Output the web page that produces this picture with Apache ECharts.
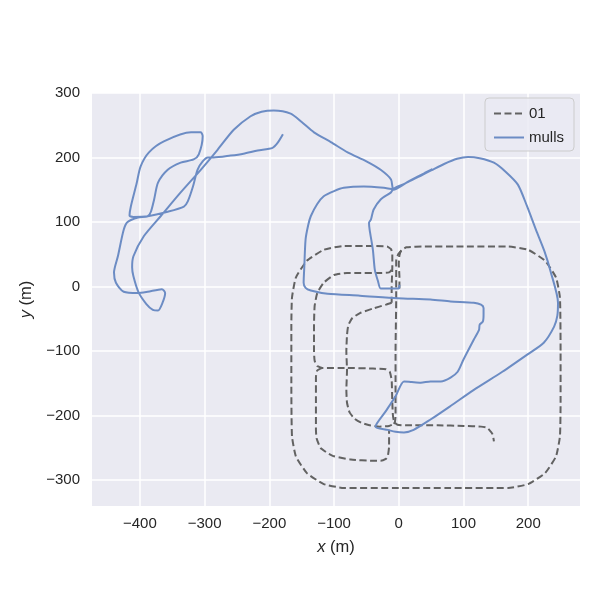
<!DOCTYPE html>
<html>
<head>
<meta charset="utf-8">
<script src="https://cdn.jsdelivr.net/npm/echarts@6/dist/echarts.min.js"></script>
<style>html,body{margin:0;padding:0;background:#fff;}#c{width:600px;height:600px;}</style>
</head>
<body>
<div id="c"></div>
<script>
// ---- tick labels ----
const xTicks = [-400, -300, -200, -100, 0, 100, 200];
const yTicks = [-300, -200, -100, 0, 100, 200, 300];

// ---- ground truth "01" (dashed), split into traced pieces ----
const gtOuter = [[1,-3],[1,15],[0,35],[1,48],[4,56],[12,61],[40,62],[100,62],[169,62],[200,57],[226,40],[243,14],[249,-17],[250,-100],[250,-180],[249,-232],[243,-263],[226,-289],[200,-306],[169,-312],[80,-312],[0,-312],[-85,-312],[-116,-306],[-142,-289],[-159,-263],[-165,-232],[-166,-150],[-166,-60],[-165,-17],[-159,14],[-142,40],[-116,57],[-85,63],[-40,63],[-18,62],[-12,58],[-10,50],[-10,30],[-11,0],[-11,-25]];
const gtLoop1 = [[-11,26],[-15,22],[-30,21],[-60,21],[-80,21],[-100,18],[-116,6],[-126,-10],[-130,-30],[-131,-60],[-131,-100],[-130,-115],[-126,-123],[-118,-126],[-80,-126],[-40,-127],[-20,-128],[-14,-132],[-11,-145],[-10,-180],[-9,-200],[-7,-210],[-2,-214],[10,-215],[60,-215],[100,-216],[127,-217],[137,-219],[145,-229],[147,-240]];
const gtLoop2 = [[-11,-25],[-20,-28],[-40,-34],[-60,-41],[-72,-49],[-78,-60],[-80,-75],[-81,-100],[-80,-130],[-81,-160],[-80,-180],[-76,-195],[-68,-205],[-58,-211],[-45,-215],[-30,-217],[-15,-216],[-8,-213]];
const gtLoop3 = [[-118,-126],[-126,-130],[-128,-140],[-128,-180],[-128,-222],[-127,-235],[-121,-250],[-110,-258],[-100,-263],[-74,-268],[-40,-270],[-28,-270],[-20,-267],[-17,-263],[-15,-248],[-15,-222]];
const gtMid = [[4,56],[-1,50],[-4,40],[-4,20],[-4,-20],[-5,-100],[-5,-160],[-5,-200],[-6,-210],[-8,-213]];

// ---- estimate "mulls" (solid) ----
const mulls = [[1,3],[0,-3],[-15,-3],[-28,-3],[-32,8],[-37,26],[-40,57],[-45,88],[-46,99],[-43,104],[-39,119],[-28,135],[-12,146],[-8,152],
[10,160],[30,170],[50,180],[70,190],[90,198],[107,201],[125,199],[147,192],[165,178],[184,158],[198,125],[212,88],[225,55],[235,22],[246,-25],[245,-45],[240,-62],[224,-87],[199,-105],[160,-132],[116,-160],[80,-185],[49,-206],[23,-222],[8,-226],[-5,-225],[-17,-222],[-36,-217],
[-20,-193],[-5,-170],[8,-147],[20,-148],[34,-149],[49,-147],[65,-147],[80,-141],[91,-132],[100,-113],[116,-82],[124,-67],[125,-59],[130,-54],[131,-43],[131,-33],[127,-28],[116,-25],[80,-23],[49,-20],[-2,-18],[-60,-14],[-110,-11],[-136,-6],[-144,-2],[-147,6],[-146,30],[-144,73],[-140,95],[-136,109],[-126,128],[-116,140],[-100,148],[-85,153],[-54,155],[-23,153],[-8,151],
[15,163],[40,176],[52,182],[38,174],[12,161],[-8,150],
[-12,166],[-28,181],[-50,194],[-79,208],[-105,224],[-131,239],[-150,255],[-167,268],[-193,273],[-212,271],[-229,264],[-255,243],[-280,212],[-306,181],[-337,146],[-368,109],[-394,78],[-410,47],[-412,30],[-410,16],[-402,-9],[-390,-27],[-380,-36],[-372,-37],[-365,-25],[-361,-10],[-366,-4],[-388,-8],[-403,-10],[-425,-8],[-437,6],[-440,22],[-434,47],[-425,88],[-419,100],[-403,107],[-388,109],
[-383,116],[-378,135],[-372,161],[-357,181],[-337,192],[-317,197],[-309,205],[-303,233],[-306,239],[-321,239],[-363,225],[-386,208],[-399,186],[-405,160],[-414,124],[-416,110],[-410,108],[-388,109],
[-357,116],[-332,124],[-326,132],[-318,155],[-311,181],[-303,194],[-295,200],[-286,200],[-260,203],[-240,206],[-218,211],[-195,215],[-187,223],[-179,236]];

const GT_COLOR = '#626262';
const MULLS_COLOR = '#6c8cc4';
const FONT = 'Liberation Sans, Arial, sans-serif';
const minus = v => (v < 0 ? '\u2212' + (-v) : String(v));

const gtStyle = {color: GT_COLOR, width: 2, type: [7, 3.5]};
function gtSeries(d) {
  return {name: '01', type: 'line', data: d, symbol: 'none', showSymbol: false, smooth: 0.15,
    lineStyle: gtStyle, itemStyle: {color: GT_COLOR}, z: 2, animation: false, clip: true};
}

const chart = echarts.init(document.getElementById('c'), null, {renderer: 'canvas'});
chart.setOption({
  backgroundColor: '#ffffff',
  animation: false,
  grid: {left: 92, top: 93, width: 488, height: 413, show: true, backgroundColor: '#EAEAF2', borderWidth: 0},
  xAxis: {
    type: 'value', min: -474, max: 280,
    axisLine: {show: false},
    axisTick: {show: false, customValues: xTicks},
    axisLabel: {customValues: xTicks, formatter: minus, color: '#262626', fontSize: 15, fontFamily: FONT, margin: 10},
    splitLine: {show: true, lineStyle: {color: '#ffffff', width: 1.5}},
    name: '{i|x} (m)', nameLocation: 'middle', nameGap: 33,
    nameTextStyle: {color: '#262626', fontSize: 16.5, fontFamily: FONT,
      rich: {i: {fontStyle: 'italic', color: '#262626', fontSize: 16.5, fontFamily: FONT}}}
  },
  yAxis: {
    type: 'value', min: -340, max: 300,
    axisLine: {show: false},
    axisTick: {show: false, customValues: yTicks},
    axisLabel: {customValues: yTicks, formatter: minus, color: '#262626', fontSize: 15, fontFamily: FONT, margin: 12},
    splitLine: {show: true, lineStyle: {color: '#ffffff', width: 1.5}},
    name: '{i|y} (m)', nameLocation: 'middle', nameGap: 50, nameRotate: 90,
    nameTextStyle: {color: '#262626', fontSize: 16.5, fontFamily: FONT,
      rich: {i: {fontStyle: 'italic', color: '#262626', fontSize: 16.5, fontFamily: FONT}}}
  },
  legend: {
    data: ['01', 'mulls'], orient: 'vertical', right: 26, top: 98,
    itemWidth: 30, itemHeight: 12, itemGap: 9,
    padding: [8, 10, 6, 8],
    itemStyle: {opacity: 0},
    backgroundColor: 'rgba(234,234,242,0.8)', borderColor: '#cccccc', borderWidth: 1, borderRadius: 4,
    textStyle: {color: '#262626', fontSize: 15, fontFamily: FONT},
    selectedMode: false
  },
  series: [
    gtSeries(gtOuter), gtSeries(gtLoop1), gtSeries(gtLoop2), gtSeries(gtLoop3), gtSeries(gtMid),
    {name: 'mulls', type: 'line', data: mulls, symbol: 'none', showSymbol: false, smooth: 0.25,
      lineStyle: {color: MULLS_COLOR, width: 2}, itemStyle: {color: MULLS_COLOR}, z: 3, animation: false, clip: true}
  ]
});
</script>
</body>
</html>
